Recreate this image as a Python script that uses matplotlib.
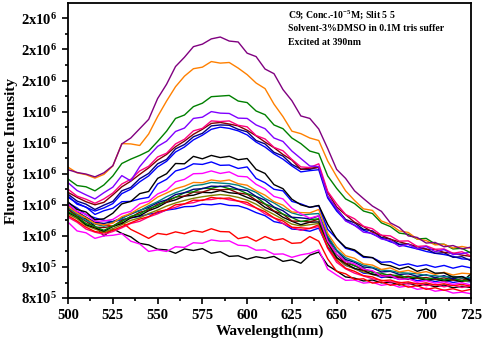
import numpy as np
import matplotlib
matplotlib.use('Agg')
import matplotlib.pyplot as plt
from matplotlib.ticker import MultipleLocator, FuncFormatter

plt.rcParams['font.family'] = 'Liberation Serif'
plt.rcParams['font.weight'] = 'bold'
plt.rcParams['mathtext.fontset'] = 'custom'
plt.rcParams['mathtext.rm'] = 'Liberation Serif:bold'
plt.rcParams['mathtext.it'] = 'Liberation Serif:bold'
plt.rcParams['mathtext.bf'] = 'Liberation Serif:bold'

# wavelength grid (nm), 5 nm steps
wl = np.arange(500, 726, 5)

# intensities in units of 1e6
purple = [1.213, 1.204, 1.199, 1.190, 1.203, 1.226, 1.296, 1.315, 1.345, 1.375,
          1.442, 1.488, 1.545, 1.575, 1.609, 1.617, 1.634, 1.640, 1.627, 1.624,
          1.588, 1.577, 1.537, 1.522, 1.471, 1.435, 1.386, 1.378, 1.344, 1.281,
          1.214, 1.185, 1.145, 1.120, 1.096, 1.079, 1.042, 1.027, 1.000, 0.995,
          0.977, 0.979, 0.965, 0.969, 0.958, 0.964]
orange = [1.221, 1.203, 1.197, 1.186, 1.198, 1.225, 1.297, 1.296, 1.291, 1.328,
          1.384, 1.434, 1.480, 1.514, 1.538, 1.543, 1.561, 1.556, 1.558, 1.540,
          1.519, 1.492, 1.474, 1.424, 1.384, 1.337, 1.329, 1.315, 1.307, 1.241,
          1.191, 1.145, 1.114, 1.087, 1.082, 1.048, 1.037, 1.016, 1.011, 0.990,
          0.985, 0.971, 0.973, 0.961, 0.966, 0.960]
green = [1.183, 1.162, 1.158, 1.145, 1.164, 1.193, 1.233, 1.247, 1.259, 1.273,
         1.304, 1.337, 1.378, 1.389, 1.416, 1.427, 1.448, 1.450, 1.452, 1.434,
         1.429, 1.402, 1.390, 1.357, 1.345, 1.315, 1.297, 1.273, 1.265, 1.193,
         1.153, 1.119, 1.104, 1.080, 1.072, 1.042, 1.030, 1.009, 1.005, 0.990,
         0.992, 0.974, 0.973, 0.958, 0.960, 0.945]
violet = [1.171, 1.146, 1.132, 1.119, 1.139, 1.157, 1.194, 1.177, 1.223, 1.257,
          1.288, 1.305, 1.336, 1.347, 1.378, 1.382, 1.400, 1.395, 1.394, 1.379,
          1.378, 1.357, 1.345, 1.315, 1.304, 1.273, 1.249, 1.225, 1.223, 1.128,
          1.088, 1.048, 1.034, 1.012, 1.008, 0.990, 0.985, 0.966, 0.973, 0.958,
          0.966, 0.949, 0.956, 0.940, 0.943, 0.948]
pink_u = [1.150, 1.128, 1.118, 1.105, 1.119, 1.138, 1.167, 1.182, 1.209, 1.224,
          1.254, 1.266, 1.296, 1.311, 1.338, 1.346, 1.370, 1.368, 1.370, 1.356,
          1.351, 1.323, 1.312, 1.285, 1.274, 1.246, 1.222, 1.220, 1.232, 1.143,
          1.103, 1.069, 1.055, 1.031, 1.023, 1.002, 1.000, 0.983, 0.984, 0.966,
          0.968, 0.957, 0.958, 0.944, 0.949, 0.935]
wine_u = [1.140, 1.124, 1.110, 1.100, 1.108, 1.132, 1.158, 1.176, 1.198, 1.219,
          1.244, 1.262, 1.287, 1.305, 1.327, 1.343, 1.362, 1.365, 1.360, 1.354,
          1.340, 1.322, 1.302, 1.284, 1.262, 1.244, 1.214, 1.218, 1.220, 1.140,
          1.093, 1.068, 1.044, 1.030, 1.012, 1.002, 0.989, 0.981, 0.973, 0.966,
          0.957, 0.956, 0.947, 0.944, 0.938, 0.934]
navy_u = [1.134, 1.112, 1.102, 1.085, 1.099, 1.111, 1.145, 1.156, 1.184, 1.201,
          1.232, 1.246, 1.280, 1.294, 1.319, 1.330, 1.354, 1.357, 1.356, 1.343,
          1.335, 1.307, 1.296, 1.269, 1.257, 1.230, 1.215, 1.214, 1.222, 1.127,
          1.087, 1.053, 1.042, 1.021, 1.016, 0.995, 0.990, 0.973, 0.974, 0.960,
          0.958, 0.944, 0.946, 0.931, 0.933, 0.920]
blue_u = [1.124, 1.106, 1.092, 1.080, 1.090, 1.104, 1.136, 1.150, 1.174, 1.193,
          1.222, 1.240, 1.270, 1.286, 1.309, 1.324, 1.343, 1.350, 1.346, 1.338,
          1.325, 1.302, 1.286, 1.264, 1.247, 1.225, 1.206, 1.210, 1.213, 1.122,
          1.080, 1.050, 1.034, 1.018, 1.006, 0.993, 0.981, 0.972, 0.965, 0.958,
          0.950, 0.944, 0.940, 0.934, 0.926, 0.924]
black_m = [1.109, 1.085, 1.077, 1.052, 1.055, 1.073, 1.103, 1.111, 1.136, 1.143,
           1.185, 1.200, 1.233, 1.232, 1.256, 1.248, 1.259, 1.252, 1.256, 1.245,
           1.249, 1.214, 1.201, 1.165, 1.152, 1.118, 1.100, 1.092, 1.098, 1.037,
           0.991, 0.963, 0.955, 0.934, 0.930, 0.909, 0.904, 0.893, 0.901, 0.886,
           0.894, 0.880, 0.881, 0.867, 0.869, 0.855]
blue_m = [1.128, 1.102, 1.093, 1.069, 1.081, 1.089, 1.110, 1.111, 1.119, 1.124,
          1.167, 1.182, 1.209, 1.217, 1.232, 1.230, 1.238, 1.227, 1.228, 1.217,
          1.222, 1.185, 1.171, 1.150, 1.145, 1.111, 1.103, 1.092, 1.097, 1.021,
          0.991, 0.960, 0.952, 0.931, 0.930, 0.915, 0.917, 0.905, 0.910, 0.902,
          0.907, 0.899, 0.905, 0.896, 0.903, 0.897]
magenta_m = [1.102, 1.079, 1.070, 1.047, 1.048, 1.053, 1.071, 1.079, 1.103, 1.111,
             1.135, 1.147, 1.174, 1.182, 1.200, 1.201, 1.209, 1.201, 1.206, 1.192,
             1.190, 1.166, 1.151, 1.127, 1.119, 1.089, 1.071, 1.057, 1.065, 0.983,
             0.942, 0.918, 0.910, 0.893, 0.888, 0.870, 0.872, 0.860, 0.862, 0.851,
             0.856, 0.848, 0.852, 0.844, 0.849, 0.842]
orange_c = [1.095, 1.074, 1.058, 1.040, 1.035, 1.041, 1.062, 1.072, 1.090, 1.104,
            1.125, 1.138, 1.152, 1.160, 1.172, 1.171, 1.180, 1.176, 1.180, 1.168,
            1.163, 1.145, 1.131, 1.110, 1.099, 1.077, 1.075, 1.074, 1.085, 1.008,
            0.965, 0.936, 0.928, 0.910, 0.906, 0.892, 0.897, 0.884, 0.889, 0.880,
            0.885, 0.876, 0.883, 0.874, 0.880, 0.878]
teal_c = [1.090, 1.070, 1.050, 1.038, 1.031, 1.044, 1.055, 1.073, 1.081, 1.097,
          1.110, 1.126, 1.139, 1.149, 1.162, 1.165, 1.172, 1.170, 1.168, 1.163,
          1.152, 1.140, 1.120, 1.106, 1.088, 1.074, 1.066, 1.070, 1.072, 1.000,
          0.955, 0.930, 0.918, 0.906, 0.899, 0.890, 0.888, 0.882, 0.880, 0.878,
          0.873, 0.872, 0.868, 0.870, 0.864, 0.867]
navy_c = [1.100, 1.078, 1.060, 1.044, 1.040, 1.046, 1.058, 1.070, 1.082, 1.092,
          1.107, 1.116, 1.133, 1.139, 1.150, 1.152, 1.160, 1.159, 1.161, 1.150,
          1.146, 1.127, 1.115, 1.093, 1.081, 1.060, 1.058, 1.055, 1.064, 0.995,
          0.952, 0.924, 0.915, 0.900, 0.897, 0.884, 0.886, 0.876, 0.878, 0.870,
          0.875, 0.866, 0.872, 0.862, 0.869, 0.860]
green_c = [1.078, 1.062, 1.040, 1.030, 1.018, 1.032, 1.046, 1.063, 1.070, 1.088,
           1.097, 1.115, 1.124, 1.139, 1.142, 1.153, 1.153, 1.160, 1.152, 1.149,
           1.136, 1.126, 1.103, 1.091, 1.070, 1.059, 1.046, 1.052, 1.055, 0.990,
           0.940, 0.920, 0.903, 0.896, 0.882, 0.880, 0.872, 0.874, 0.864, 0.869,
           0.860, 0.866, 0.858, 0.864, 0.855, 0.860]
wine_c = [1.085, 1.064, 1.047, 1.028, 1.027, 1.031, 1.050, 1.060, 1.076, 1.083,
          1.102, 1.109, 1.125, 1.128, 1.141, 1.141, 1.150, 1.148, 1.150, 1.138,
          1.134, 1.115, 1.102, 1.080, 1.070, 1.048, 1.047, 1.045, 1.054, 0.983,
          0.940, 0.912, 0.905, 0.889, 0.886, 0.873, 0.876, 0.867, 0.870, 0.864,
          0.866, 0.860, 0.865, 0.858, 0.862, 0.856]
black_c = [1.075, 1.060, 1.036, 1.026, 1.015, 1.030, 1.040, 1.058, 1.065, 1.081,
           1.092, 1.108, 1.116, 1.128, 1.131, 1.140, 1.139, 1.146, 1.139, 1.136,
           1.124, 1.113, 1.092, 1.079, 1.060, 1.047, 1.036, 1.044, 1.045, 0.980,
           0.930, 0.911, 0.895, 0.889, 0.876, 0.873, 0.866, 0.868, 0.860, 0.866,
           0.857, 0.862, 0.854, 0.860, 0.852, 0.878]
olive_c = [1.070, 1.055, 1.033, 1.022, 1.012, 1.023, 1.036, 1.050, 1.058, 1.072,
           1.083, 1.096, 1.106, 1.114, 1.121, 1.126, 1.130, 1.133, 1.130, 1.124,
           1.115, 1.102, 1.084, 1.069, 1.053, 1.038, 1.032, 1.036, 1.040, 0.975,
           0.928, 0.906, 0.894, 0.884, 0.876, 0.870, 0.867, 0.865, 0.862, 0.864,
           0.858, 0.860, 0.855, 0.858, 0.853, 0.856]
red_c = [1.065, 1.048, 1.028, 1.014, 1.010, 1.018, 1.030, 1.042, 1.054, 1.062,
         1.078, 1.084, 1.100, 1.103, 1.115, 1.114, 1.124, 1.120, 1.122, 1.112,
         1.108, 1.090, 1.078, 1.058, 1.048, 1.028, 1.026, 1.024, 1.036, 0.962,
         0.922, 0.896, 0.886, 0.872, 0.868, 0.856, 0.858, 0.849, 0.852, 0.845,
         0.849, 0.842, 0.846, 0.840, 0.844, 0.838]
pink_c = [1.060, 1.044, 1.022, 1.012, 1.005, 1.014, 1.026, 1.040, 1.047, 1.061,
          1.071, 1.084, 1.092, 1.103, 1.107, 1.116, 1.117, 1.122, 1.116, 1.112,
          1.101, 1.090, 1.071, 1.058, 1.040, 1.027, 1.018, 1.024, 1.030, 0.960,
          0.915, 0.894, 0.880, 0.871, 0.862, 0.857, 0.852, 0.851, 0.845, 0.848,
          0.840, 0.844, 0.836, 0.842, 0.834, 0.840]
blue_c = [1.106, 1.090, 1.068, 1.058, 1.050, 1.046, 1.052, 1.058, 1.063, 1.070,
          1.074, 1.083, 1.087, 1.094, 1.095, 1.102, 1.100, 1.104, 1.098, 1.097,
          1.088, 1.075, 1.065, 1.046, 1.040, 1.022, 1.020, 1.015, 1.025, 0.965,
          0.930, 0.905, 0.896, 0.880, 0.878, 0.866, 0.869, 0.860, 0.864, 0.856,
          0.860, 0.853, 0.858, 0.850, 0.855, 0.852]
red_l = [1.092, 1.069, 1.060, 1.040, 1.036, 1.031, 1.045, 1.021, 1.007, 0.992,
         1.008, 1.004, 1.013, 1.007, 1.017, 1.012, 1.023, 1.014, 1.013, 0.991,
         0.997, 0.983, 0.998, 0.986, 0.991, 0.976, 0.978, 0.998, 0.983, 0.926,
         0.886, 0.878, 0.860, 0.862, 0.848, 0.852, 0.841, 0.846, 0.835, 0.840,
         0.828, 0.833, 0.825, 0.830, 0.822, 0.828]
magenta_l = [1.044, 1.016, 1.010, 0.992, 1.000, 1.002, 1.007, 0.983, 0.974, 0.950,
             0.955, 0.950, 0.965, 0.963, 0.978, 0.976, 0.987, 0.983, 0.984, 0.970,
             0.968, 0.954, 0.955, 0.941, 0.942, 0.931, 0.939, 0.944, 0.955, 0.893,
             0.874, 0.857, 0.858, 0.848, 0.851, 0.841, 0.845, 0.835, 0.839, 0.828,
             0.832, 0.822, 0.826, 0.816, 0.819, 0.814]
black_l = [1.086, 1.063, 1.055, 1.031, 1.000, 1.023, 1.008, 0.997, 0.976, 0.971,
           0.957, 0.955, 0.944, 0.958, 0.953, 0.959, 0.944, 0.949, 0.934, 0.936,
           0.925, 0.933, 0.928, 0.934, 0.918, 0.923, 0.912, 0.938, 0.948, 0.905,
           0.887, 0.868, 0.864, 0.855, 0.858, 0.849, 0.851, 0.842, 0.848, 0.839,
           0.845, 0.836, 0.842, 0.833, 0.838, 0.834]

series = [
    (black_l, '#000000'), (magenta_l, '#FF00FF'), (red_l, '#FF0000'),
    (blue_c, '#0000FF'), (pink_c, '#FF0080'), (red_c, '#FF0000'),
    (olive_c, '#808000'), (black_c, '#000000'), (wine_c, '#800000'),
    (green_c, '#008000'), (navy_c, '#000080'), (teal_c, '#008080'),
    (orange_c, '#FF8000'), (magenta_m, '#FF00FF'), (blue_m, '#0000FF'),
    (black_m, '#000000'), (blue_u, '#0000FF'), (navy_u, '#000080'),
    (wine_u, '#800000'), (pink_u, '#FF0080'), (violet, '#8000FF'),
    (green, '#008000'), (orange, '#FF8000'), (purple, '#800080'),
]

fig = plt.figure(figsize=(4.83, 3.49), dpi=100)
ax = fig.add_axes([0.141, 0.146, 0.834, 0.845])

for vals, col in series:
    ax.plot(wl, np.array(vals) * 1e6, color=col, lw=1.0)

ax.set_xlim(500, 725)
ax.set_ylim(0.8e6, 1.749e6)
ax.xaxis.set_major_locator(MultipleLocator(25))
ax.xaxis.set_minor_locator(MultipleLocator(12.5))
ax.yaxis.set_major_locator(MultipleLocator(1e5))
ax.yaxis.set_minor_locator(MultipleLocator(5e4))


def sci_label(v, pos):
    e = int(np.floor(np.log10(v) + 1e-9))
    m = int(v / 10 ** e + 0.5)
    return '%dx10$^{%d}$' % (m, e)


ax.yaxis.set_major_formatter(FuncFormatter(sci_label))
ax.tick_params(which='both', direction='out', top=False, right=False, labelsize=10.5, width=1.2)
ax.tick_params(which='major', length=4.5)
ax.tick_params(which='minor', length=2.5)
for sp in ax.spines.values():
    sp.set_linewidth(1.3)

ax.set_xlabel('Wavelength(nm)', fontsize=11, fontweight='bold', labelpad=2)
ax.set_ylabel('Fluorescence Intensity', fontsize=11, fontweight='bold', labelpad=2)

ax.text(0.545, 0.949, 'C9; Conc.-10$^{-5}$M; Slit 5 5', transform=ax.transAxes,
        fontsize=7, fontweight='bold', va='baseline')
ax.text(0.545, 0.905, 'Solvent-3%DMSO in 0.1M tris suffer', transform=ax.transAxes,
        fontsize=7, fontweight='bold', va='baseline')
ax.text(0.545, 0.858, 'Excited at 390nm', transform=ax.transAxes,
        fontsize=7, fontweight='bold', va='baseline')

fig.savefig('out.png', dpi=100)
